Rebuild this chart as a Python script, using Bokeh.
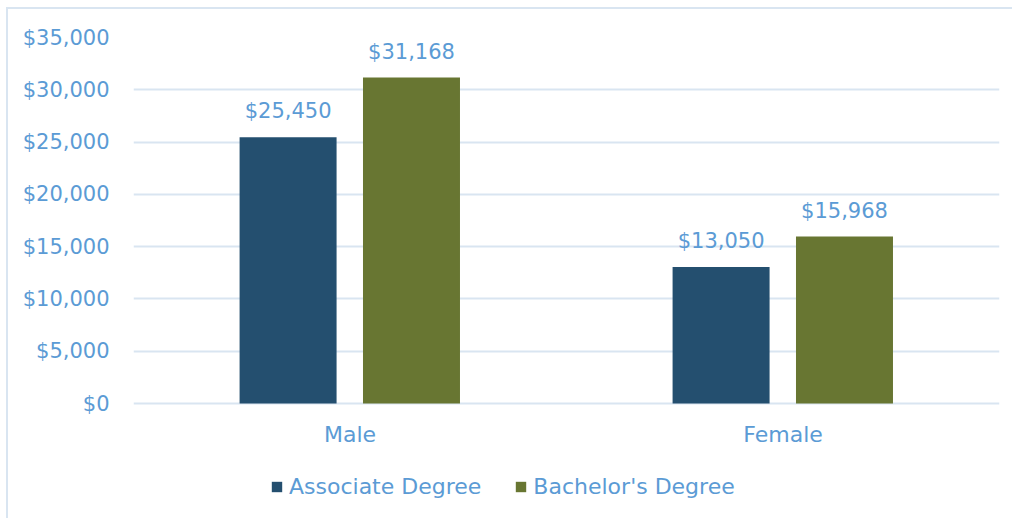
from bokeh.plotting import figure
from bokeh.models import (ColumnDataSource, FactorRange, NumeralTickFormatter, LabelSet,
                          Legend, LegendItem, FixedTicker)
from bokeh.core.properties import value
from bokeh.transform import dodge
from bokeh.embed import file_html
from bokeh.resources import INLINE

categories = ["Male", "Female"]
associate = [25450, 13050]
bachelor = [31168, 15968]
series_names = ["Associate Degree", "Bachelor's Degree"]
y_ticks = [0, 5000, 10000, 15000, 20000, 25000, 30000, 35000]
colors = ["#244F6F", "#687632"]

FONT = "DejaVu Sans"
TXT = "#5B9BD5"
FS = "21px"
FS2 = "22px"

src = ColumnDataSource(dict(
    cat=categories,
    a=associate,
    b=bachelor,
    al=["${:,}".format(v) for v in associate],
    bl=["${:,}".format(v) for v in bachelor],
))

# frame spans from the top gridline down to the bottom of the picture;
# the lower part (below $0) holds category labels and legend
top_val = y_ticks[-1]
px_plot = 366.0   # pixels between $0 and top gridline
px_below = 117.0  # pixels below $0 line
y_start = -top_val * px_below / px_plot

p = figure(x_range=FactorRange(*categories), y_range=(y_start, top_val),
           width=1006, height=511, output_backend="svg", toolbar_location=None,
           x_axis_location=None,
           min_border_left=125, min_border_right=15, min_border_top=28, min_border_bottom=0)
p.styles = {"border-left": "2px solid #D9E5F1", "border-top": "2px solid #D9E5F1",
            "margin-left": "6px", "margin-top": "7px"}
p.outline_line_color = None

ra = p.vbar(x=dodge("cat", -0.143, range=p.x_range), top="a", width=0.224, source=src,
            fill_color=colors[0], line_color=None)
rb = p.vbar(x=dodge("cat", 0.142, range=p.x_range), top="b", width=0.224, source=src,
            fill_color=colors[1], line_color=None)

for col, lab, off in (("a", "al", -0.143), ("b", "bl", 0.142)):
    ls = LabelSet(x=dodge("cat", off, range=p.x_range), y=col, text=lab, source=src,
                  text_align="center", text_baseline="middle", y_offset=26,
                  text_color=TXT, text_font=value(FONT), text_font_size=FS)
    p.add_layout(ls)

# category labels under the $0 line
cat_src = ColumnDataSource(dict(cat=categories, y=[0] * len(categories)))
p.text(x="cat", y="y", text="cat", source=cat_src, text_align="center",
       text_baseline="middle", y_offset=31, text_color=TXT,
       text_font=value(FONT), text_font_size=FS2)

p.yaxis.ticker = FixedTicker(ticks=y_ticks)
p.yaxis.formatter = NumeralTickFormatter(format="$0,0")
p.yaxis.axis_line_color = None
p.yaxis.major_tick_line_color = None
p.yaxis.minor_tick_line_color = None
p.yaxis.major_label_text_color = TXT
p.yaxis.major_label_text_font = FONT
p.yaxis.major_label_text_font_size = FS
p.yaxis.major_label_standoff = 18

p.xgrid.grid_line_color = None
p.ygrid.ticker = FixedTicker(ticks=y_ticks)
p.ygrid.grid_line_color = "#D9E5F1"
p.ygrid.grid_line_width = 2

legend = Legend(items=[LegendItem(label=series_names[0], renderers=[ra]),
                       LegendItem(label=series_names[1], renderers=[rb])],
                orientation="horizontal", location=(137, 21),
                label_text_color=TXT, label_text_font=FONT, label_text_font_size=FS2,
                glyph_width=13, glyph_height=13, spacing=33, label_standoff=6,
                border_line_color=None, background_fill_alpha=0, margin=0, padding=4)
p.add_layout(legend, "center")

open("out.html", "w").write(file_html(p, INLINE))
